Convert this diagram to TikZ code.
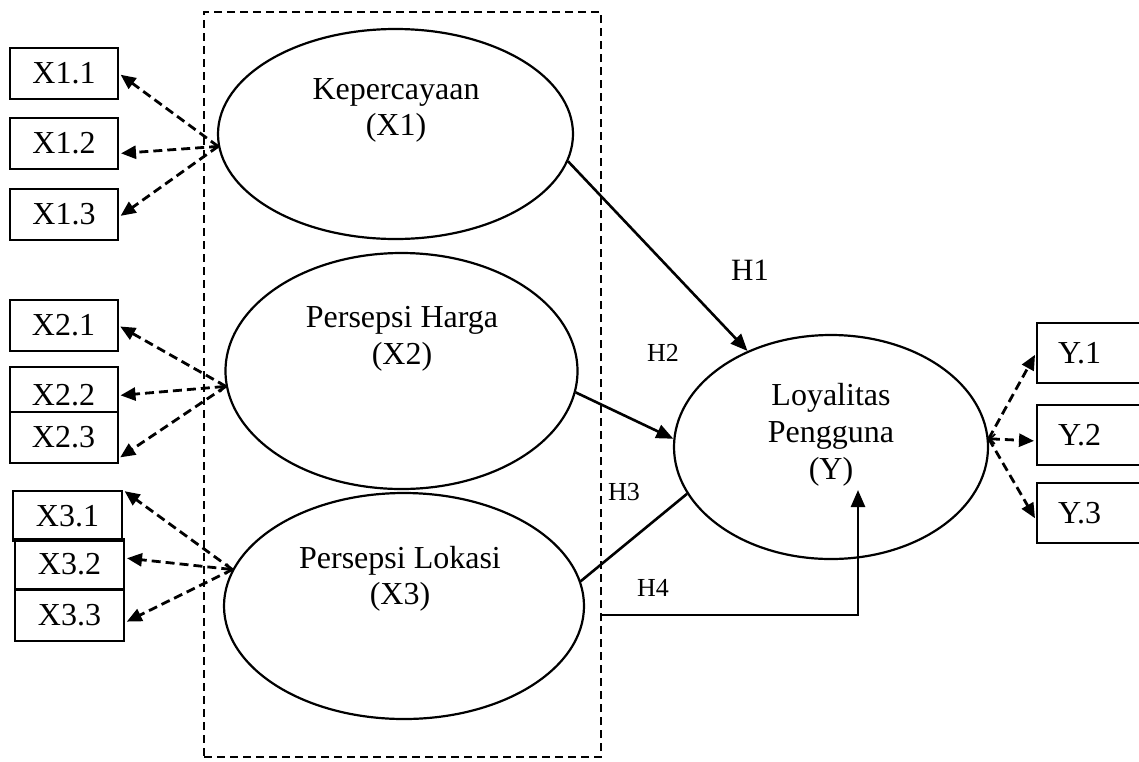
\documentclass[tikz,border=0pt]{standalone}
\usepackage{fontspec}
\setmainfont{Liberation Serif}
\usetikzlibrary{shapes.geometric,arrows.meta}
\begin{document}
\begin{tikzpicture}[x=1pt,y=-1pt,
  lat/.style={ellipse,draw,line width=2.2pt,inner sep=0pt},
  ltxt/.style={align=center,font=\fontsize{32}{36}\selectfont,inner sep=0pt},
  ind/.style={draw,line width=2pt,minimum width=108pt,minimum height=51pt,inner sep=0pt,font=\fontsize{32}{34}\selectfont},
  ybox/.style={draw,line width=2pt,minimum height=60pt,text width=96pt,inner xsep=21pt,inner ysep=0pt,anchor=west,align=left,font=\fontsize{32}{34}\selectfont},
  load/.style={line width=2.8pt,dash pattern=on 9pt off 5pt,shorten >=2pt},
  tipend/.style={-{Triangle[length=15pt,width=13pt]}},
  tipboth/.style={{Straight Barb[length=5pt,width=10pt,line width=1.8pt]}-{Triangle[length=15pt,width=13pt]}},
  hyp/.style={line width=2.6pt,-{Triangle[length=17pt,width=14pt]}},
  hlab/.style={font=\fontsize{26}{30}\selectfont,inner sep=0pt},
  grpbox/.style={draw,line width=2.2pt,dash pattern=on 8pt off 5pt,inner sep=0pt}
]
\useasboundingbox (0,0) rectangle (1139,761);
\clip (0,0) rectangle (1139,761);

% dashed group box
\node[grpbox,minimum width=397pt,minimum height=745pt] (grp) at (402.5,384.5) {};

% latent variables
\node[lat,minimum width=355pt,minimum height=210pt] (e1) at (395.5,134) {};
\node[lat,minimum width=352pt,minimum height=236pt] (e2) at (401.5,371) {};
\node[lat,minimum width=360pt,minimum height=226pt] (e3) at (404,606) {};
\node[lat,minimum width=314pt,minimum height=224pt] (e4) at (831,447) {};

\node[ltxt] (t1) at (396,110.5) {Kepercayaan\\(X1)};
\node[ltxt,font=\fontsize{32}{37}\selectfont] (t2) at (402,338.5) {Persepsi Harga\\(X2)};
\node[ltxt] (t3) at (400,579) {Persepsi Lokasi\\(X3)};
\node[ltxt,font=\fontsize{32}{37}\selectfont] (t4) at (831,434.5) {Loyalitas\\Pengguna\\(Y)};

% indicators X
\node[ind] (x11) at (64,73.5) {X1.1};
\node[ind] (x12) at (64,143.5) {X1.2};
\node[ind] (x13) at (64,214) {X1.3};
\node[ind] (x21) at (63.5,325.5) {X2.1};
\node[ind,minimum height=45pt] (x22) at (63.5,389.5) {\raisebox{-6pt}[\height][\depth]{X2.2}};
\node[ind] (x23) at (63.5,437.5) {X2.3};
\node[ind,minimum width=109pt,minimum height=50pt] (x31) at (67.5,516) {X3.1};
\node[ind,minimum width=109pt,minimum height=50pt] (x32) at (69.5,564) {X3.2};
\node[ind,minimum width=109pt] (x33) at (69.5,615.5) {X3.3};

% indicators Y
\node[ybox] (y1) at (1036,353) {Y.1};
\node[ybox] (y2) at (1036,435) {Y.2};
\node[ybox] (y3) at (1036,513) {Y.3};

% loadings
\draw[load,tipend] (e1.184) -- (x11.east);
\draw[load,tipend] (e1.184) -- ([yshift=-10pt]x12.east);
\draw[load,tipend] (e1.184) -- ([yshift=-3pt]x13.east);
\draw[load,tipend] (e2.185) -- (x21.east);
\draw[load,tipboth] (e2.185) -- ([yshift=-6pt]x22.east);
\draw[load,tipend] (e2.185) -- ([yshift=-21pt]x23.east);
\draw[load,tipend] (e3.168) -- (x31.north east);
\draw[load,tipboth] (e3.168) -- ([yshift=6pt]x32.east);
\draw[load,tipend] (e3.168) -- ([yshift=-7pt]x33.east);
\draw[load,tipend] (e4.3) -- (y1.west);
\draw[load,tipboth] (e4.3) -- ([yshift=-6pt]y2.west);
\draw[load,tipend] (e4.3) -- ([yshift=-7pt]y3.west);

% hypotheses
\draw[hyp] (e1.-9) -- (e4.131);
\draw[hyp] (e2.-7) -- (e4.177);
\draw[line width=2.6pt] (e3.8) -- (e4.198);
\coordinate (h4s) at (601,615);
\coordinate (h4e) at (858,490);
\draw[hyp] (h4s) -| (h4e);

\node[font=\fontsize{31}{34}\selectfont,inner sep=0pt] (h1) at (750,270) {H1};
\node[hlab] (h2) at (663,353) {H2};
\node[hlab] (h3) at (624,492) {H3};
\node[hlab] (h4) at (653,588) {H4};
\end{tikzpicture}
\end{document}
